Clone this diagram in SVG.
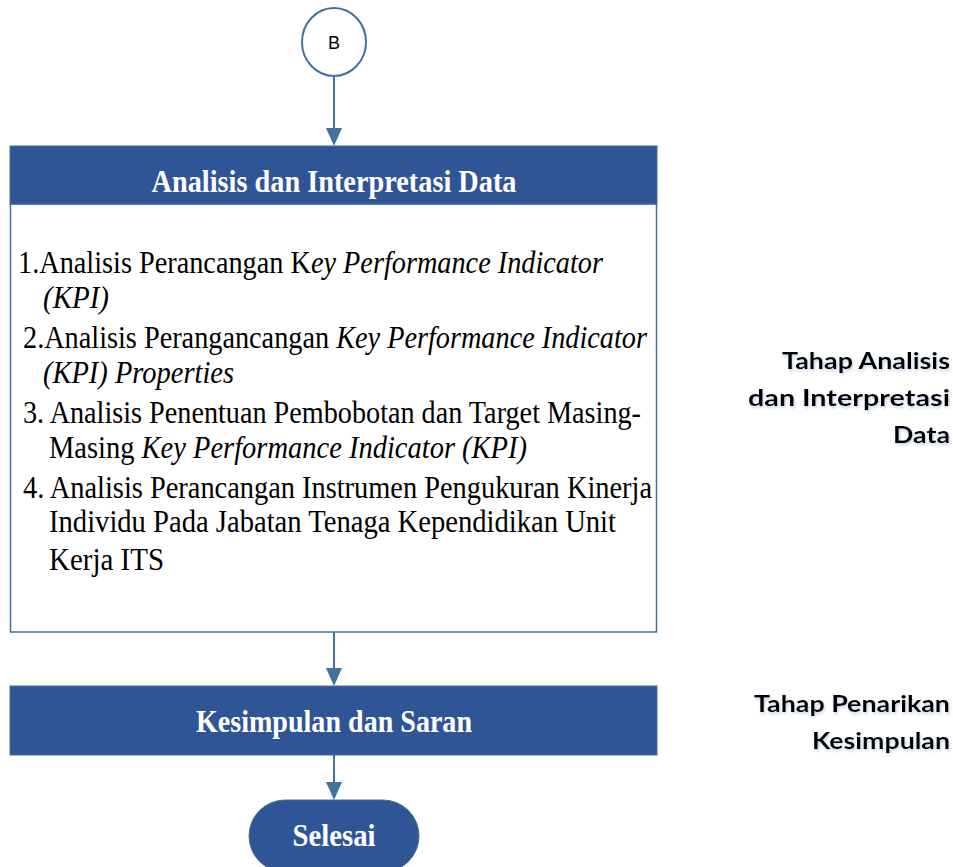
<svg xmlns="http://www.w3.org/2000/svg" width="953" height="867" viewBox="0 0 953 867">
<defs>
<style>
.hdr{fill:#2F5597;stroke:#41719C;stroke-width:1}
.conn{stroke:#41719C;stroke-width:2;fill:none}
.ttl{font-family:"Liberation Serif",serif;font-weight:bold;font-size:32px;fill:#fff;text-anchor:middle}
.lst{font-family:"Liberation Serif",serif;font-size:31px;fill:#000}
.side{font-family:Lato,"Open Sans",sans-serif;font-weight:bold;font-size:23px;fill:#000;text-anchor:end}
</style>
<filter id="sh" x="-10%" y="-20%" width="120%" height="150%">
<feGaussianBlur in="SourceAlpha" stdDeviation="1.5"/>
<feOffset dx="1" dy="2" result="b"/>
<feFlood flood-color="#8aa0c8" flood-opacity="0.5"/>
<feComposite in2="b" operator="in"/>
<feMerge><feMergeNode/><feMergeNode in="SourceGraphic"/></feMerge>
</filter>
</defs>
<g id="connectors">
<line class="conn" x1="334" y1="76" x2="334" y2="128"/>
<path d="M326,128 L342,128 L334,146 Z" fill="#41719C"/>
<line class="conn" x1="334" y1="632" x2="334" y2="668"/>
<path d="M326,668 L342,668 L334,686 Z" fill="#41719C"/>
<line class="conn" x1="334" y1="755" x2="334" y2="782"/>
<path d="M326,782 L342,782 L334,800 Z" fill="#41719C"/>
</g>
<g id="node-b">
<ellipse cx="334" cy="42" rx="32" ry="34" fill="#fff" stroke="#41719C" stroke-width="2"/>
<text x="334" y="49" font-family="Liberation Sans,Arial,sans-serif" font-size="18" text-anchor="middle" fill="#000">B</text>
</g>
<g id="node-analisis">
<rect x="10.5" y="204" width="646" height="428" fill="#fff" stroke="#41719C" stroke-width="1.5"/>
<rect class="hdr" x="10" y="146" width="647" height="58"/>
<text class="ttl" x="334" y="192" textLength="365" lengthAdjust="spacingAndGlyphs">Analisis dan Interpretasi Data</text>
<text class="lst" x="18" y="273" textLength="585" lengthAdjust="spacingAndGlyphs">1.Analisis Perancangan K<tspan font-style="italic">ey Performance Indicator</tspan></text>
<text class="lst" x="43" y="308" font-style="italic" textLength="66" lengthAdjust="spacingAndGlyphs">(KPI)</text>
<text class="lst" x="23" y="348" textLength="624" lengthAdjust="spacingAndGlyphs">2.Analisis Perangancangan <tspan font-style="italic">Key Performance Indicator</tspan></text>
<text class="lst" x="43" y="383" font-style="italic" textLength="191" lengthAdjust="spacingAndGlyphs">(KPI) Properties</text>
<text class="lst" x="23" y="423" textLength="618" lengthAdjust="spacingAndGlyphs">3. Analisis Penentuan Pembobotan dan Target Masing-</text>
<text class="lst" x="49" y="458" textLength="478" lengthAdjust="spacingAndGlyphs">Masing <tspan font-style="italic">Key Performance Indicator (KPI)</tspan></text>
<text class="lst" x="23" y="498" textLength="629" lengthAdjust="spacingAndGlyphs">4. Analisis Perancangan Instrumen Pengukuran Kinerja</text>
<text class="lst" x="49" y="532" textLength="567" lengthAdjust="spacingAndGlyphs">Individu Pada Jabatan Tenaga Kependidikan Unit</text>
<text class="lst" x="49" y="570" textLength="115" lengthAdjust="spacingAndGlyphs">Kerja ITS</text>
</g>
<g id="node-kesimpulan">
<rect class="hdr" x="10" y="686" width="647" height="69"/>
<text class="ttl" x="334" y="732" textLength="276" lengthAdjust="spacingAndGlyphs">Kesimpulan dan Saran</text>
</g>
<g id="node-selesai">
<rect class="hdr" x="249" y="800" width="170" height="72" rx="36" ry="36"/>
<text class="ttl" x="334" y="846" textLength="83" lengthAdjust="spacingAndGlyphs">Selesai</text>
</g>
<g id="label-analisis" filter="url(#sh)">
<text class="side" x="950" y="369" textLength="168" lengthAdjust="spacingAndGlyphs">Tahap Analisis</text>
<text class="side" x="950" y="406" textLength="202" lengthAdjust="spacingAndGlyphs">dan Interpretasi</text>
<text class="side" x="950" y="443" textLength="57" lengthAdjust="spacingAndGlyphs">Data</text>
</g>
<g id="label-penarikan" filter="url(#sh)">
<text class="side" x="950" y="712" textLength="196" lengthAdjust="spacingAndGlyphs">Tahap Penarikan</text>
<text class="side" x="950" y="749" textLength="138" lengthAdjust="spacingAndGlyphs">Kesimpulan</text>
</g>
</svg>
